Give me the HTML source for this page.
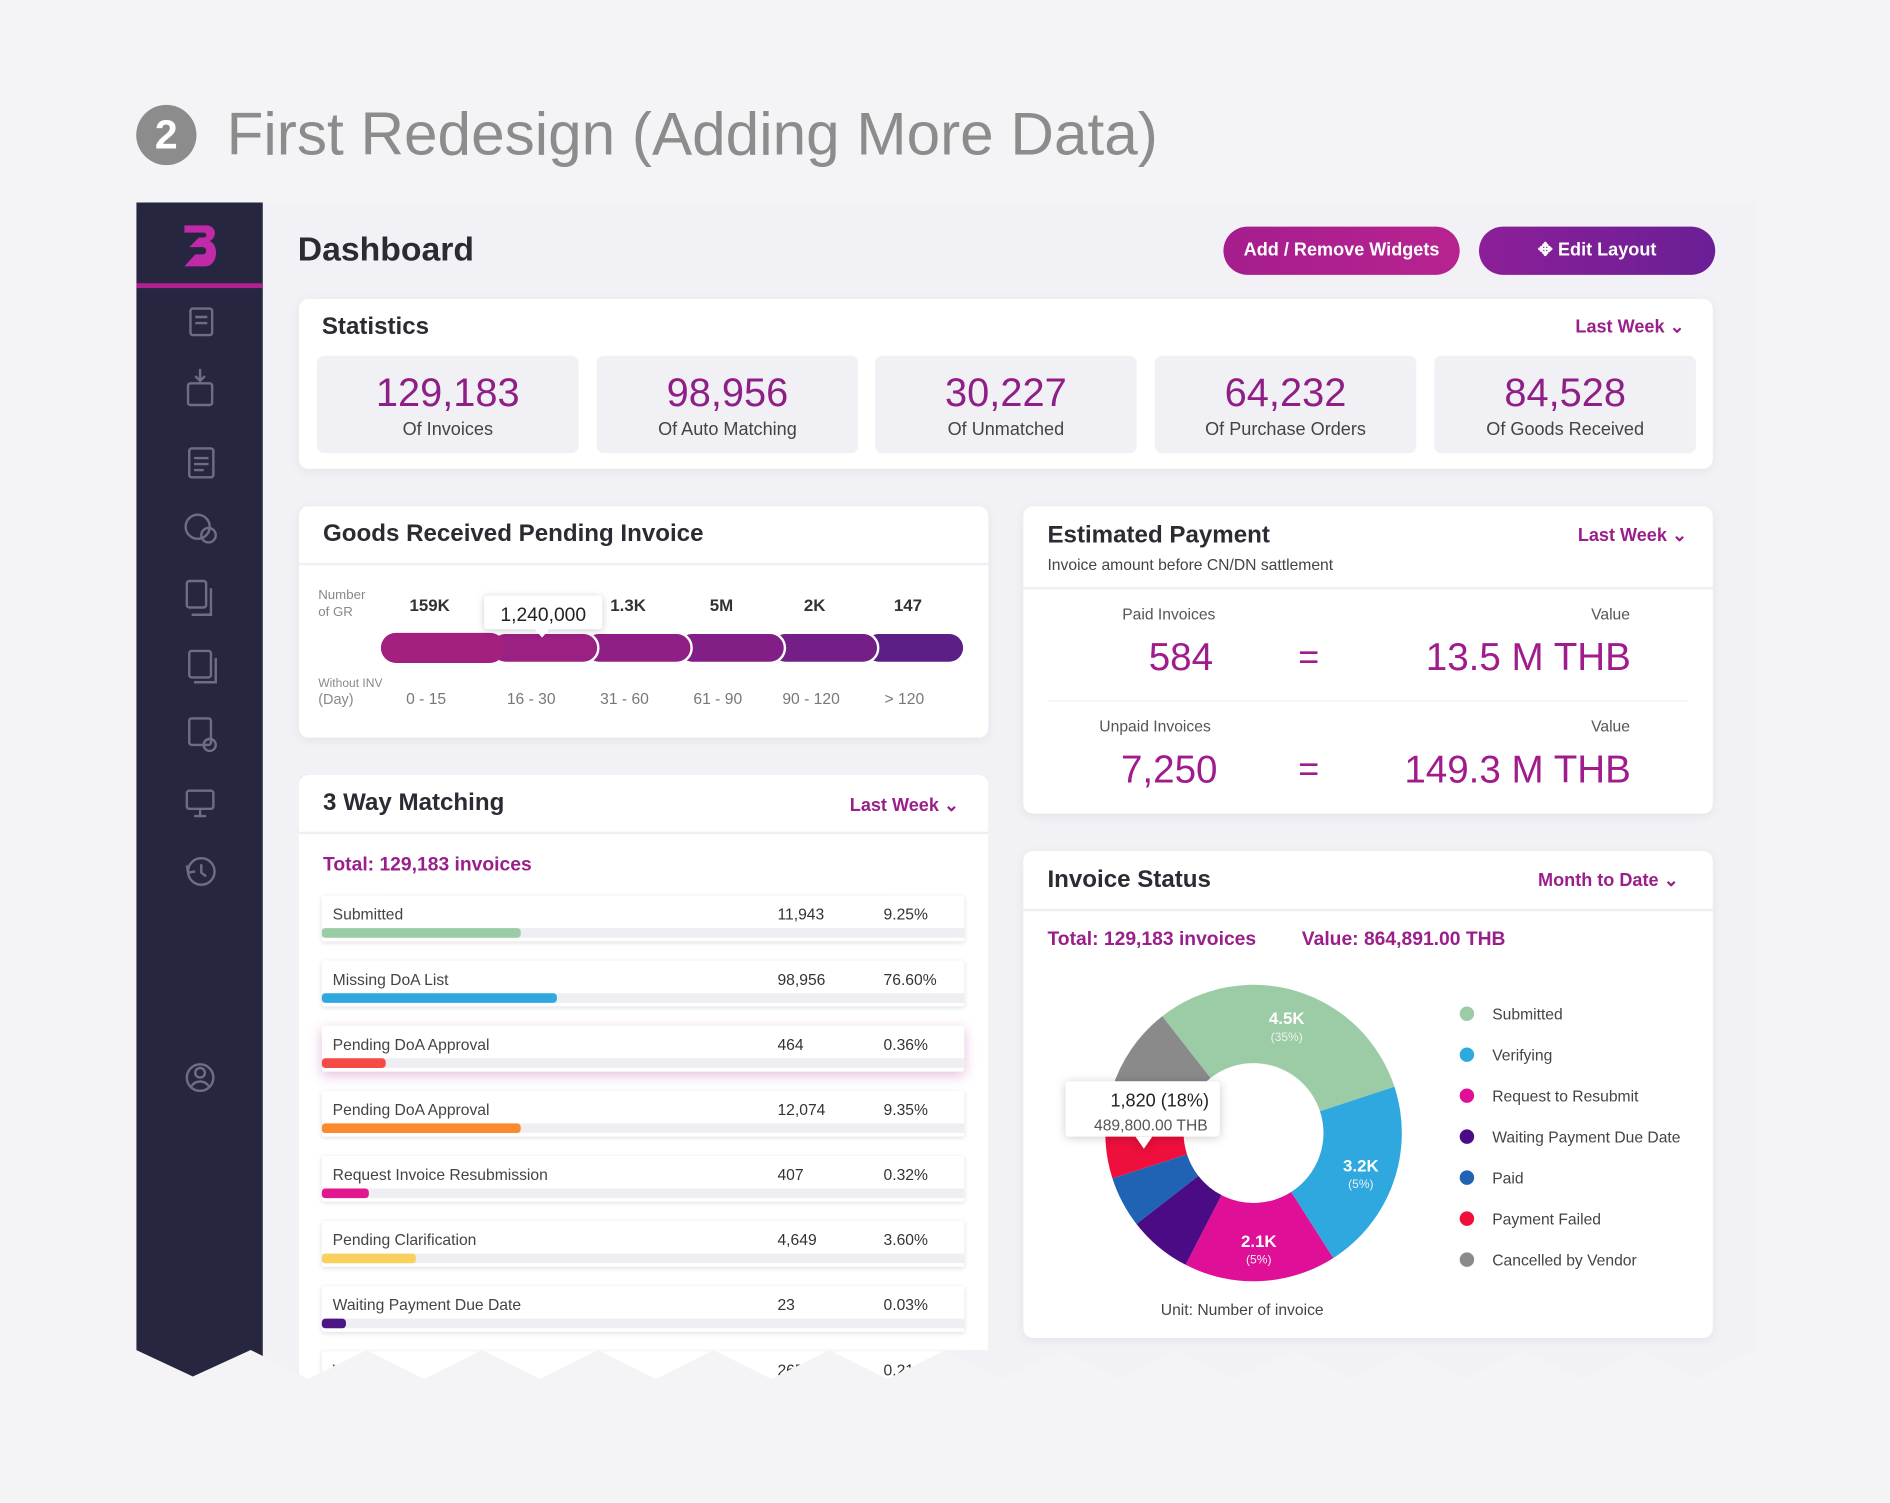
<!DOCTYPE html>
<html><head><meta charset="utf-8">
<style>
*{box-sizing:border-box;margin:0;padding:0}
html,body{width:1890px;height:1503px;overflow:hidden;background:#f4f4f7;font-family:"Liberation Sans",sans-serif}
#wrap{position:absolute;left:0;top:0;width:1568px;height:1247px;transform:scale(1.20536);transform-origin:0 0}
.abs{position:absolute}
.card{position:absolute;background:#fff;border-radius:8px;box-shadow:0 2px 8px rgba(60,60,90,.08)}
.hdr{position:absolute;left:0;right:0;border-bottom:2px solid #eeeef3}
.t{position:absolute;white-space:nowrap}
.ttl{font-size:20px;color:#2b2b33;font-weight:bold}
.lw{font-size:15px;color:#9a1f8a;font-weight:bold}
.stat{position:absolute;top:47px;height:81px;background:#f1f1f5;border-radius:6px;text-align:center}
.stat .n{font-size:33px;color:#8e1f86;margin-top:13px;line-height:36px}
.stat .l{font-size:15px;color:#444;margin-top:4px}
.row{position:absolute;left:19px;width:533px;height:38px;background:#fff;box-shadow:0 1px 4px rgba(0,0,0,.12);border-radius:2px}
.row .lab{position:absolute;left:9px;top:8px;font-size:13px;color:#444}
.row .c{position:absolute;left:378px;top:8px;font-size:13px;color:#333}
.row .p{position:absolute;left:466px;top:8px;font-size:13px;color:#333}
.row .tr{position:absolute;left:0;right:0;bottom:3px;height:8px;background:#eeeef3}
.row .b{position:absolute;left:0;bottom:3px;height:8px;border-radius:3px}
</style></head><body>
<div id="wrap">
<div class="abs" style="left:113px;top:87px;width:50px;height:50px;border-radius:50%;background:#8c8c8c;color:#fff;font-size:34px;font-weight:bold;text-align:center;line-height:50px">2</div>
<div class="t" style="left:188px;top:82px;font-size:50px;color:#8c8c8c">First Redesign (Adding More Data)</div>

<div class="abs" style="left:113px;top:168px;width:1344px;height:980px;background:#f2f2f6;box-shadow:0 4px 14px rgba(0,0,0,.08);clip-path:polygon(0 0,100% 0,100% 952px,1343px 952px,1295px 976px,1247px 952px,1199px 976px,1151px 952px,1103px 976px,1055px 952px,1007px 976px,959px 952px,911px 976px,863px 952px,815px 976px,767px 952px,719px 976px,671px 952px,623px 976px,575px 952px,527px 976px,479px 952px,431px 976px,383px 952px,335px 976px,287px 952px,239px 976px,191px 952px,143px 976px,95px 952px,47px 974px,0 952px);overflow:hidden">
 <div class="abs" style="left:0;top:0;width:105px;height:980px;background:#262640">
  <div class="abs" style="left:0;top:67px;width:105px;height:4px;background:#b0208f"></div>
  <svg class="abs" style="left:38px;top:17px" width="30" height="38" viewBox="0 0 30 38"><path d="M2 2h18c8 0 10 9 3 13c8 3 7 21-4 21H2l9-10h6c4 0 4-6 0-6H6l8-8h4c3 0 3-4 0-4H2z" fill="#c02aa8"/></svg>
  <svg class="abs" style="left:0;top:80px" width="105" height="660" fill="none" stroke="#6d6d85" stroke-width="2">
   <rect x="45" y="8" width="18" height="22" rx="2"/><path d="M49 15h10M49 20h10"/>
   <rect x="43" y="70" width="20" height="18" rx="2"/><path d="M53 58v10M49 64l4 4 4-4"/>
   <rect x="44" y="124" width="20" height="24" rx="2"/><path d="M48 132h12M48 137h12M48 142h8"/>
   <circle cx="51" cy="189" r="10"/><circle cx="60" cy="196" r="6"/>
   <rect x="42" y="234" width="16" height="22" rx="2"/><path d="M62 240v22H46"/>
   <rect x="44" y="292" width="18" height="22" rx="2"/><path d="M66 298v20H48"/>
   <rect x="44" y="348" width="18" height="22" rx="2"/><circle cx="61" cy="370" r="5"/>
   <rect x="42" y="408" width="22" height="15" rx="2"/><path d="M53 423v5M48 429h10"/>
   <circle cx="54" cy="475" r="11"/><path d="M54 469v7l4 3M42 470l1 6 6-1"/>
   <circle cx="53" cy="646" r="11"/><circle cx="53" cy="642" r="4"/><path d="M46 653c3-5 11-5 14 0"/>
  </svg>
 </div>
</div>

<div class="t" style="left:247px;top:191px;font-size:28px;font-weight:bold;color:#2b2b33">Dashboard</div>
<div class="abs" style="left:1015px;top:188px;width:196px;height:40px;border-radius:20px;background:linear-gradient(90deg,#a51d8e,#b8238f);color:#fff;font-size:15px;font-weight:bold;text-align:center;line-height:40px">Add / Remove Widgets</div>
<div class="abs" style="left:1227px;top:188px;width:196px;height:40px;border-radius:20px;background:linear-gradient(90deg,#8c1f98,#6a1f96);color:#fff;font-size:15px;font-weight:bold;text-align:center;line-height:40px">✥ Edit Layout</div>

<!-- Statistics -->
<div class="card" style="left:248px;top:248px;width:1173px;height:141px">
 <div class="t ttl" style="left:19px;top:12px">Statistics</div>
 <div class="t lw" style="left:1059px;top:14px">Last Week ⌄</div>
 <div class="stat" style="left:15px;width:217px"><div class="n">129,183</div><div class="l">Of Invoices</div></div>
 <div class="stat" style="left:247px;width:217px"><div class="n">98,956</div><div class="l">Of Auto Matching</div></div>
 <div class="stat" style="left:478px;width:217px"><div class="n">30,227</div><div class="l">Of Unmatched</div></div>
 <div class="stat" style="left:710px;width:217px"><div class="n">64,232</div><div class="l">Of Purchase Orders</div></div>
 <div class="stat" style="left:942px;width:217px"><div class="n">84,528</div><div class="l">Of Goods Received</div></div>
</div>

<!-- GR pending -->
<div class="card" style="left:248px;top:420px;width:572px;height:192px">
 <div class="hdr" style="top:0;height:49px"></div>
 <div class="t ttl" style="left:20px;top:12px">Goods Received Pending Invoice</div>
 <div class="t" style="left:16px;top:67px;font-size:11px;color:#888;line-height:14px">Number<br>of GR</div>
 <div class="t" style="left:16px;top:141px;font-size:10px;color:#888;line-height:13px">Without INV<br><span style="font-size:12px">(Day)</span></div>
 <svg class="abs" id="grsvg" style="left:0;top:60px" width="572" height="130"></svg>
</div>

<!-- Estimated payment -->
<div class="card" style="left:849px;top:420px;width:572px;height:255px">
 <div class="hdr" style="top:0;height:69px"></div>
 <div class="t ttl" style="left:20px;top:13px">Estimated Payment</div>
 <div class="t" style="left:20px;top:41px;font-size:13px;color:#444">Invoice amount before CN/DN sattlement</div>
 <div class="t lw" style="left:460px;top:15px">Last Week ⌄</div>
 <div class="t" style="left:82px;top:82px;font-size:13px;color:#555">Paid Invoices</div>
 <div class="t" style="left:471px;top:82px;font-size:13px;color:#555">Value</div>
 <div class="t" style="left:104px;top:107px;font-size:32px;color:#a01c8c">584</div>
 <div class="t" style="left:228px;top:109px;font-size:30px;color:#a01c8c">=</div>
 <div class="t" style="right:68px;top:107px;font-size:32px;color:#a01c8c">13.5 M THB</div>
 <div class="abs" style="left:20px;right:20px;top:161px;height:1px;background:#eee"></div>
 <div class="t" style="left:63px;top:175px;font-size:13px;color:#555">Unpaid Invoices</div>
 <div class="t" style="left:471px;top:175px;font-size:13px;color:#555">Value</div>
 <div class="t" style="left:81px;top:200px;font-size:32px;color:#a01c8c">7,250</div>
 <div class="t" style="left:228px;top:202px;font-size:30px;color:#a01c8c">=</div>
 <div class="t" style="right:68px;top:200px;font-size:32px;color:#a01c8c">149.3 M THB</div>
</div>

<!-- 3 way -->
<div class="card" style="left:248px;top:643px;width:572px;height:520px;clip-path:polygon(0 0,100% 0,100% 477px,536px 477px,488px 501px,440px 477px,392px 501px,344px 477px,296px 501px,248px 477px,200px 501px,152px 477px,104px 501px,56px 477px,8px 501px,0 497px)">
 <div class="hdr" style="top:0;height:49px"></div>
 <div class="t ttl" style="left:20px;top:12px">3 Way Matching</div>
 <div class="t lw" style="left:457px;top:16px">Last Week ⌄</div>
 <div class="t" style="left:20px;top:66px;font-size:16px;font-weight:bold;color:#9a1f8a">Total: 129,183 invoices</div>
 <div id="rows"></div>
</div>

<!-- Invoice status -->
<div class="card" style="left:849px;top:706px;width:572px;height:404px">
 <div class="hdr" style="top:0;height:50px"></div>
 <div class="t ttl" style="left:20px;top:13px">Invoice Status</div>
 <div class="t lw" style="left:427px;top:15px">Month to Date ⌄</div>
 <div class="t" style="left:20px;top:65px;font-size:16px;font-weight:bold;color:#9a1f8a">Total: 129,183 invoices</div>
 <div class="t" style="left:231px;top:65px;font-size:16px;font-weight:bold;color:#9a1f8a">Value: 864,891.00 THB</div>
 <svg class="abs" id="donut" style="left:0;top:0" width="572" height="404"></svg>
 <div class="t" style="left:114px;top:373px;font-size:13px;color:#444">Unit: Number of invoice</div>
</div>
</div>

<script>
// GR chart data
const grRanges=["0 - 15","16 - 30","31 - 60","61 - 90","90 - 120","> 120"];
const grValues=["159K","1,240,000","1.3K","5M","2K","147"];
const grColors=["#a3207f","#9a2082","#8f1f84","#821f86","#731f87","#5c1f86"];
const NS="http://www.w3.org/2000/svg";
function mk(p,tag,at){const e=document.createElementNS(NS,tag);for(const k in at)e.setAttribute(k,at[k]);p.appendChild(e);return e;}
(function(){
 const s=document.getElementById('grsvg');
 const x0=68,x1=552,n=grRanges.length,first=97,w=(x1-x0-first)/(n-1);
 const xs=i=>i==0?x0:x0+first+(i-1)*w;
 const ws=i=>i==0?first:w;
 for(let i=n-1;i>=0;i--){
  const r=mk(s,'rect',{x:xs(i)-(i?6:0),y:45,width:ws(i)+(i?6:0)+(i==n-1?0:6),height:25,rx:12.5,fill:grColors[i],stroke:i?'#fff':'none','stroke-width':2});
  
  
 }
 grValues.forEach((v,i)=>{
  const c=xs(i)+ws(i)/2;
  if(i==1){
   const b=mk(s,'rect',{x:c-50,y:14,width:98,height:28,rx:3,fill:'#fff'});
   
   
   b.style.filter='drop-shadow(0 1px 3px rgba(0,0,0,.2))';
   mk(s,'path',{d:`M${c-8} 42l6 7 6-7z`,fill:'#fff'});
   const t=mk(s,'text',{x:c-1,y:35,'text-anchor':'middle','font-size':16,fill:'#222'});t.textContent=v;
   
   
  } else {
   const t=mk(s,'text',{x:c-(i==2?8:8),y:27,'text-anchor':'middle','font-size':14,'font-weight':'bold',fill:'#333'});t.textContent=v;
   
   
  }
  const r=mk(s,'text',{x:c-11,y:104,'text-anchor':'middle','font-size':13,fill:'#777'});r.textContent=grRanges[i];
  
  
 });
})();

// 3 way matching data
const mLabels=["Submitted","Missing DoA List","Pending DoA Approval","Pending DoA Approval","Request Invoice Resubmission","Pending Clarification","Waiting Payment Due Date","Verifying"];
const mCounts=["11,943","98,956","464","12,074","407","4,649","23","265"];
const mPcts=["9.25%","76.60%","0.36%","9.35%","0.32%","3.60%","0.03%","0.21%"];
const mBarFrac=[0.31,0.365,0.10,0.31,0.073,0.147,0.037,0.05];
const mColors=["#9acda6","#2fa7df","#f44b44","#fb8a2e","#e0178f","#f9cf5e","#4b1584","#999"];
(function(){
 const c=document.getElementById('rows');
 const top0=100,step=54,W=533;
 mLabels.forEach((l,i)=>{
  const r=document.createElement('div');r.className='row';
  
  
  r.style.top=(top0+i*step)+'px';
  if(i==2)r.style.boxShadow='0 3px 10px rgba(170,40,150,.3)';
  r.innerHTML='<div class="lab">'+l+'</div><div class="c">'+mCounts[i]+'</div><div class="p">'+mPcts[i]+'</div><div class="tr"></div>';
  const b=document.createElement('div');b.className='b';
  
  
  b.style.width=(mBarFrac[i]*W)+'px';b.style.background=mColors[i];
  r.appendChild(b);c.appendChild(r);
 });
})();

// donut data
const dLabels=["Submitted","Verifying","Request to Resubmit","Waiting Payment Due Date","Paid","Payment Failed","Cancelled by Vendor"];
const dValues=[4500,3100,2450,1020,820,1430,1430];
const dText=["4.5K","3.2K","2.1K","","","",""];
const dPct=["(35%)","(5%)","(5%)","","","",""];
const dColors=["#9bcca5","#2ea8df","#df0f97","#4a0b84","#2063b5","#ee0f3c","#8a8a8a"];
(function(){
 const s=document.getElementById('donut');
 const cx=191,cy=234,R=123,r0=58,start=-38;
 const tot=dValues.reduce((a,b)=>a+b,0);
 const pt=(a,rad)=>[cx+rad*Math.sin(a*Math.PI/180),cy-rad*Math.cos(a*Math.PI/180)];
 let a=start;
 dValues.forEach((v,i)=>{
  const a2=a+v/tot*360,lg=(a2-a)>180?1:0;
  const p1=pt(a,R),p2=pt(a2,R),p3=pt(a2,r0),p4=pt(a,r0);
  const p=mk(s,'path',{d:`M${p1}A${R} ${R} 0 ${lg} 1 ${p2}L${p3}A${r0} ${r0} 0 ${lg} 0 ${p4}Z`,fill:dColors[i]});
  
  
  if(dText[i]){
   const m=(a+a2)/2,q=pt(m,(R+r0)/2+4);
   const t=mk(s,'text',{x:q[0],y:q[1],'text-anchor':'middle','font-size':14,'font-weight':'bold',fill:'#fff'});t.textContent=dText[i];
   
   
   const t2=mk(s,'text',{x:q[0],y:q[1]+14,'text-anchor':'middle','font-size':10,fill:'#f0f0f0'});t2.textContent=dPct[i];
   
   
  }
  a=a2;
 });
 const g=mk(s,'g',{});
 
 
 g.style.filter='drop-shadow(0 1px 4px rgba(0,0,0,.2))';
 mk(g,'rect',{x:35,y:191,width:128,height:46,rx:3,fill:'#fff'});
 mk(g,'path',{d:'M93 237l7 10 7-10z',fill:'#fff'});
 const t1=mk(s,'text',{x:154,y:212,'text-anchor':'end','font-size':15,fill:'#222'});t1.textContent='1,820  (18%)';
 const t2=mk(s,'text',{x:153,y:232,'text-anchor':'end','font-size':13,fill:'#555'});t2.textContent='489,800.00 THB';
 dLabels.forEach((l,i)=>{
  const y=135+i*34;
  const d=mk(s,'circle',{cx:368,cy:y,r:6,fill:dColors[i]});
  
  
  const t=mk(s,'text',{x:389,y:y+5,'font-size':13,fill:'#444'});t.textContent=l;
  
  
 });
})();
</script>
</body></html>
